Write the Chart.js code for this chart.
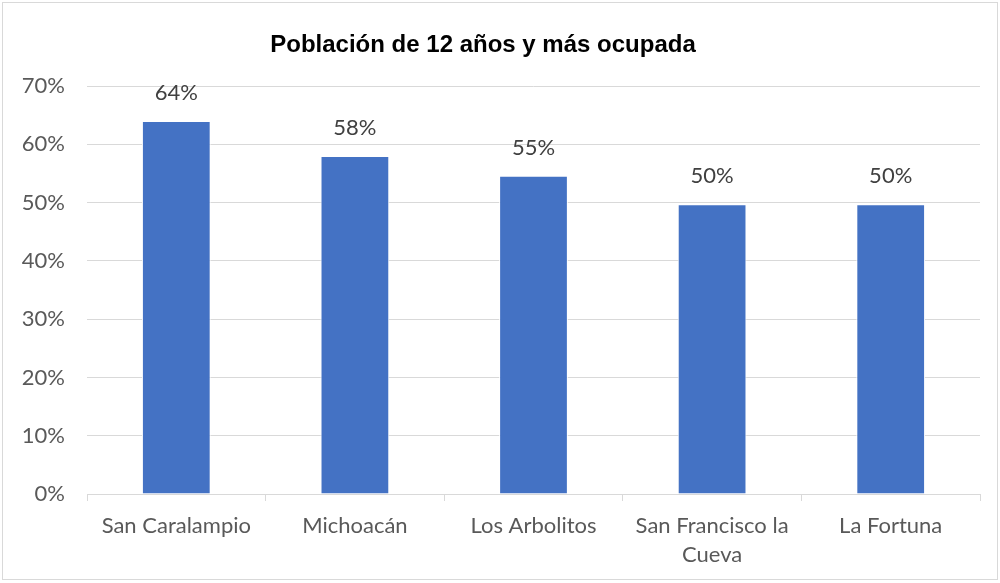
<!DOCTYPE html>
<html>
<head>
<meta charset="utf-8">
<script src="https://cdn.jsdelivr.net/npm/chart.js@4.4.1/dist/chart.umd.min.js"></script>
<style>
  html, body { margin: 0; padding: 0; background: #ffffff; }
  #wrap { width: 1000px; height: 583px; position: relative; }
</style>
</head>
<body>
<div id="wrap"><canvas id="c" width="1000" height="583"></canvas></div>
<script>
const chartTitle = 'Población de 12 años y más ocupada';
const categories = ['San Caralampio', 'Michoacán', 'Los Arbolitos', ['San Francisco la', 'Cueva'], 'La Fortuna'];
const values = [64.0, 58.0, 54.6, 49.7, 49.7];
const valueLabels = ['64%', '58%', '55%', '50%', '50%'];
const yTicks = [0, 10, 20, 30, 40, 50, 60, 70];

const textColor = '#595959';
const gridColor = '#d9d9d9';
const barColor = '#4472C4';

const framePlugin = {
  id: 'frame',
  beforeDraw(chart) {
    const ctx = chart.ctx;
    ctx.save();
    ctx.fillStyle = '#ffffff';
    ctx.fillRect(0, 0, chart.width, chart.height);
    ctx.strokeStyle = gridColor;
    ctx.lineWidth = 1;
    ctx.strokeRect(2.5, 2.5, 995, 577);
    ctx.restore();
  },
  afterDraw(chart) {
    const ctx = chart.ctx;
    ctx.save();
    ctx.fillStyle = '#000000';
    ctx.font = 'bold 24px "Liberation Sans", Arial, sans-serif';
    ctx.textAlign = 'center';
    ctx.textBaseline = 'middle';
    ctx.fillText(chartTitle, 483, 45);
    ctx.restore();
  }
};

const valueLabelPlugin = {
  id: 'valueLabels',
  afterDatasetsDraw(chart) {
    const ctx = chart.ctx;
    const meta = chart.getDatasetMeta(0);
    ctx.save();
    ctx.fillStyle = '#404040';
    ctx.font = '22px Lato, "Open Sans", sans-serif';
    ctx.textAlign = 'center';
    ctx.textBaseline = 'bottom';
    meta.data.forEach((bar, i) => {
      ctx.fillText(valueLabels[i], bar.x, bar.y - 17);
    });
    ctx.restore();
  }
};

new Chart(document.getElementById('c'), {
  type: 'bar',
  data: {
    labels: categories,
    datasets: [{
      data: values,
      backgroundColor: barColor,
      borderColor: '#ffffff',
      borderWidth: 1,
      barPercentage: 0.385,
      categoryPercentage: 1.0
    }]
  },
  options: {
    responsive: false,
    animation: false,
    devicePixelRatio: 1,
    layout: { padding: { top: 86, right: 20, bottom: 0, left: 0 } },
    plugins: {
      legend: { display: false },
      title: { display: false },
      tooltip: { enabled: false }
    },
    scales: {
      x: {
        offset: true,
        grid: {
          offset: true,
          drawOnChartArea: false,
          drawTicks: true,
          tickLength: 7,
          color: gridColor,
          lineWidth: 1
        },
        border: { display: true, color: gridColor, width: 1 },
        ticks: {
          color: textColor,
          font: { family: 'Lato, "Open Sans", sans-serif', size: 22, lineHeight: 1.32 },
          padding: 10,
          maxRotation: 0,
          autoSkip: false
        },
        afterFit(scale) { scale.height = 89; }
      },
      y: {
        min: 0,
        max: 70,
        afterBuildTicks(scale) { scale.ticks = yTicks.map(v => ({ value: v })); },
        grid: { color: gridColor, lineWidth: 1, drawTicks: false },
        border: { display: false },
        ticks: {
          color: textColor,
          font: { family: 'Lato, "Open Sans", sans-serif', size: 22 },
          padding: 22,
          callback: (v) => v + '%'
        },
        afterFit(scale) { scale.width = 87; }
      }
    }
  },
  plugins: [framePlugin, valueLabelPlugin]
});
</script>
</body>
</html>
